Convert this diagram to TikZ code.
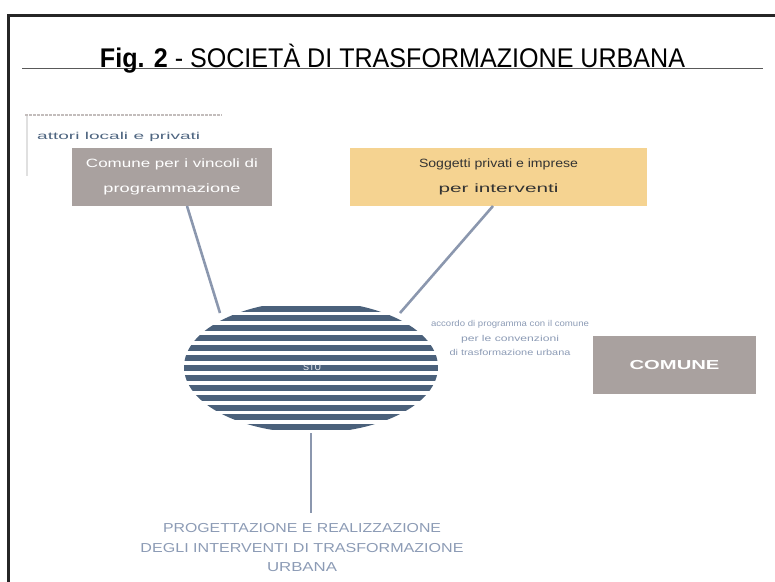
\documentclass[tikz,border=0pt]{standalone}
\usepackage{fontspec}
\setmainfont{Liberation Sans}
\usetikzlibrary{shapes.geometric,calc}
\definecolor{boxgray}{HTML}{A9A19F}
\definecolor{boxyellow}{HTML}{F5D391}
\definecolor{stripe}{HTML}{4B617B}
\definecolor{conn}{HTML}{8B97AE}
\definecolor{slate}{HTML}{8C9BB5}
\definecolor{darkslate}{HTML}{4E6580}
\newcommand{\fitw}[2]{\resizebox{#1}{\height}{#2}}
\tikzset{
  frameline/.style={line width=3pt,draw=black!85},
  rulebar/.style={line width=1.4pt,draw=black!65},
  graybox/.style={fill=boxgray,draw=none,minimum width=200pt,minimum height=58pt,inner sep=0pt,text=white,align=center,font=\fontsize{12}{25}\selectfont},
  yellowbox/.style={fill=boxyellow,draw=none,minimum width=297pt,minimum height=58pt,inner sep=0pt,text=black!80,align=center,font=\fontsize{12}{25}\selectfont},
  connector/.style={draw=conn,line width=2.6pt},
  smalltext/.style={text=slate,align=center,inner sep=0pt},
}
\begin{document}
\begin{tikzpicture}[x=1pt,y=-1pt]
\useasboundingbox (0,0) rectangle (775,581);
% frame
\draw[frameline] (8,600) -- (8,15) -- (800,15);
% title
\draw[rulebar] (22,68.5) -- (763,68.5);
\node[anchor=base,inner sep=0pt] (title) at (392.5,67)
  {\resizebox{585pt}{\height}{\fontsize{27}{30}\selectfont\textbf{Fig. 2} - SOCIETÀ DI TRASFORMAZIONE URBANA}};
% top-left label
\draw[draw=boxgray!70,line width=1.5pt,dash pattern=on 3pt off 1pt] (25,115) -- (222,115);
\draw[draw=black!12,line width=2pt] (27,116) -- (27,176);
\node[anchor=west,inner sep=0pt,text=darkslate,font=\fontsize{10}{10}\selectfont] (lab) at (37,137) {\fitw{163pt}{attori locali e privati}};
% gray box
\node[graybox] (gb) at (172,177) {\fitw{172pt}{Comune per i vincoli di}\\\fitw{137pt}{programmazione}};
% yellow box
\node[yellowbox] (yb) at (498.5,177) {\fitw{159pt}{Soggetti privati e imprese}\\\fitw{120pt}{per interventi}};
% ellipse with stripes
\node[ellipse,draw=none,minimum width=254pt,minimum height=132pt,inner sep=0pt,
  path picture={
    \foreach \k in {0,...,12}{
      \fill[stripe] ($(path picture bounding box.west)+(0,-58.5+9.9*\k)$) ++(-5,-3) rectangle ++(270,6);
    }
  }] (stu) at (311,367) {};
\node[text=white!85!slate,font=\fontsize{9}{10}\selectfont,inner sep=1pt] (stulab) at (312,367) {STU};
% right label
\node[smalltext,font=\fontsize{8.5}{14.5}\selectfont] (rlab) at (510,338) {\fitw{158pt}{accordo di programma con il comune}\\\fitw{98pt}{per le convenzioni}\\\fitw{121pt}{di trasformazione urbana}};
% COMUNE box
\node[fill=boxgray,minimum width=163pt,minimum height=58pt,inner sep=0pt,text=white,font=\fontsize{13}{14}\selectfont] (com) at (674.5,365) {\fitw{90pt}{\textbf{COMUNE}}};
% bottom text
\node[smalltext,font=\fontsize{13}{19.5}\selectfont] (bot) at (302,548) {\fitw{278pt}{PROGETTAZIONE E REALIZZAZIONE}\\\fitw{323pt}{DEGLI INTERVENTI DI TRASFORMAZIONE}\\\fitw{70pt}{URBANA}};
% connectors
\coordinate (gbend) at (187,206);
\coordinate (ybend) at (493,206);
\coordinate (stuL) at (220,313);
\coordinate (stuR) at (400,313);
\coordinate (botend) at (311,513);
\draw[connector] (gbend) -- (stuL);
\draw[connector] (ybend) -- (stuR);
\draw[connector] (stu.south) -- (botend);
\end{tikzpicture}
\end{document}
